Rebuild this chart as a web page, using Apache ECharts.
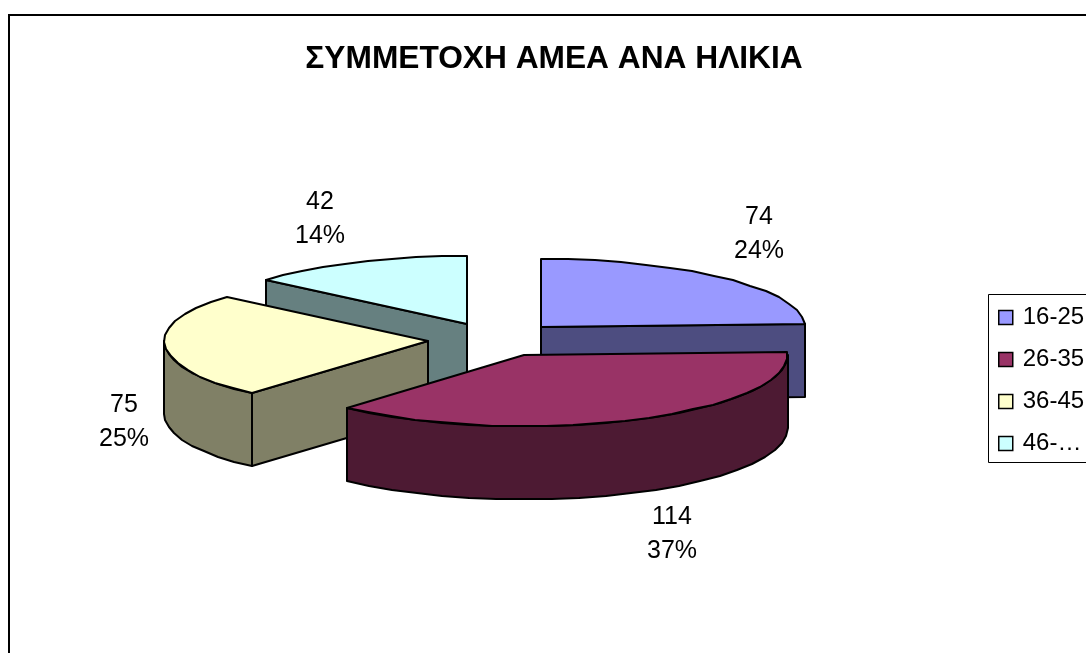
<!DOCTYPE html>
<html>
<head>
<meta charset="utf-8">
<style>html,body{margin:0;padding:0;background:#fff;overflow:hidden}#c{width:1086px;height:653px}</style>
<script src="https://cdn.jsdelivr.net/npm/echarts@6/dist/echarts.min.js"></script>
</head>
<body>
<div id="c"></div>
<script>
const titleText = 'ΣΥΜΜΕΤΟΧΗ ΑΜΕΑ ΑΝΑ ΗΛΙΚΙΑ';
const categories = ['16-25', '26-35', '36-45', '46-…'];
const values = [74, 114, 75, 42];
const topColors = ['#9999ff', '#993366', '#ffffcc', '#ccffff'];
const wallColors = ['#4d4d80', '#4d1a33', '#808066', '#668080'];
const drawOrder = [3, 0, 2, 1];
const labelAnchors = [[759, 234], [672, 534], [124, 422], [320, 219]];

const cx = 495, cy = 339.5, rx = 264, ryBack = 68, ryFront = 71, depth = 73, explode = 67;
const total = values.reduce((a, b) => a + b, 0);
const line = { stroke: '#000', lineWidth: 2, lineJoin: 'round' };

function sliceAngles(i) {
  const before = values.slice(0, i).reduce((a, b) => a + b, 0);
  return [before / total * 2 * Math.PI, (before + values[i]) / total * 2 * Math.PI];
}
function ptOn(a, ox, oy) {
  const c = Math.cos(a);
  return [Math.round(ox + rx * Math.sin(a)), Math.round(oy - (c > 0 ? ryBack : ryFront) * c)];
}
function arcPts(a0, a1, ox, oy, dy) {
  const pts = [], n = Math.max(1, Math.ceil((a1 - a0) / (6 * Math.PI / 180)));
  for (let k = 0; k <= n; k++) {
    const p = ptOn(a0 + (a1 - a0) * k / n, ox, oy);
    pts.push([p[0], p[1] + dy]);
  }
  return pts;
}
function poly(points, fill, z2) {
  return { type: 'polygon', z2, shape: { points }, style: Object.assign({ fill }, line) };
}
function renderSlice(params, api) {
  const i = drawOrder[params.seriesIndex];
  const [a0, a1] = sliceAngles(i);
  const mid = (a0 + a1) / 2;
  const ox = cx + explode * Math.sin(mid);
  const oy = cy - explode * (ryBack / rx) * Math.cos(mid);
  const wall = wallColors[i], children = [];
  const p0 = ptOn(a0, ox, oy), p1 = ptOn(a1, ox, oy), o = [Math.round(ox), Math.round(oy)];
  const rect = (p, z2) => poly([o, p, [p[0], p[1] + depth], [o[0], o[1] + depth]], wall, z2);
  // cut faces that look toward the viewer
  if (p1[0] > o[0]) children.push(rect(p1, 1));
  if (p0[0] < o[0]) children.push(rect(p0, 1));
  // outer rim: only the part that faces the viewer (between 90° and 270°)
  const f0 = Math.max(a0, Math.PI / 2), f1 = Math.min(a1, 1.5 * Math.PI);
  if (f1 > f0) {
    const t = arcPts(f0, f1, ox, oy, 0), b = arcPts(f0, f1, ox, oy, depth).reverse();
    children.push(poly(t.concat(b), wall, 2));
  }
  children.push(poly([o].concat(arcPts(a0, a1, ox, oy, 0)), topColors[i], 3));
  const pct = Math.round(values[i] / total * 100);
  children.push({
    type: 'text', z2: 5,
    style: {
      x: labelAnchors[i][0], y: labelAnchors[i][1],
      text: values[i] + '\n' + pct + '%',
      fill: '#000', font: '25px "Liberation Sans", Arial, sans-serif',
      lineHeight: 34, align: 'center', verticalAlign: 'middle'
    }
  });
  return { type: 'group', children };
}

const chart = echarts.init(document.getElementById('c'), null, { renderer: 'canvas' });
chart.setOption({
  animation: false,
  backgroundColor: '#fff',
  title: {
    text: titleText, left: 549, top: 38, textAlign: 'center',
    textStyle: { fontFamily: '"Liberation Sans", Arial, sans-serif', fontSize: 31.7, fontWeight: 'bold', color: '#000' }
  },
  graphic: [
    { type: 'rect', z: -1, shape: { x: 9, y: 15, width: 1200, height: 800 }, style: { fill: 'none', stroke: '#000', lineWidth: 2 } },
    { type: 'rect', z: -1, shape: { x: 988.5, y: 294.5, width: 200, height: 168 }, style: { fill: '#fff', stroke: '#000', lineWidth: 1 } }
  ],
  legend: {
    orient: 'vertical', left: 987, top: 293, padding: [9, 0, 0, 11],
    data: categories, icon: 'rect', itemWidth: 14, itemHeight: 14, itemGap: 11,
    itemStyle: { borderColor: '#000', borderWidth: 1.5 },
    selectedMode: false,
    textStyle: { fontFamily: '"Liberation Sans", Arial, sans-serif', fontSize: 24, color: '#000', lineHeight: 25, padding: [0, 0, 6, 5] }
  },
  series: drawOrder.map(i => ({
    type: 'custom', name: categories[i], coordinateSystem: 'none',
    renderItem: renderSlice, data: [[values[i]]],
    itemStyle: { color: topColors[i] }, silent: true
  }))
});
</script>
</body>
</html>
